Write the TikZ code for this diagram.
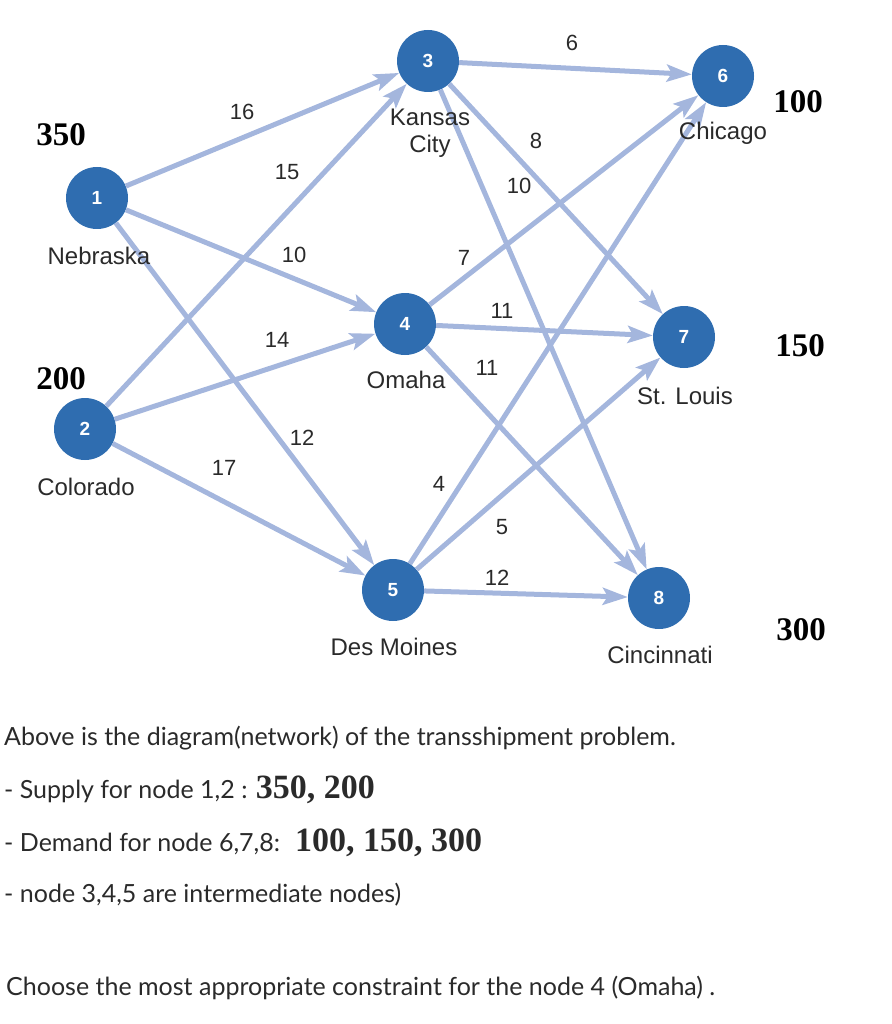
\documentclass[tikz,border=0pt]{standalone}
\usepackage{fontspec}
\setmainfont{Liberation Sans}
\newfontfamily\latofont{Lato}
\newfontfamily\timesfont{Liberation Serif}
\usetikzlibrary{arrows.meta}
\definecolor{nodeblue}{HTML}{2F6DB0}
\definecolor{edgeblue}{HTML}{A4B6DD}
\definecolor{inkgray}{HTML}{2A2A2A}
\tikzset{
  city/.style={circle, fill=nodeblue, minimum size=62pt, inner sep=0pt,
               text=white, font=\fontsize{19}{19}\selectfont\bfseries},
  flow/.style={draw=edgeblue, line width=5pt,
               -{Stealth[length=25pt,width=17pt,inset=5pt]}},
  place/.style={font=\fontsize{24}{27}\selectfont, text=inkgray, align=center},
  cost/.style={font=\fontsize{22}{22}\selectfont, text=inkgray},
  amount/.style={font=\timesfont\bfseries\fontsize{33}{33}\selectfont},
  textline/.style={anchor=west, inner sep=0pt,
                   font=\latofont\fontsize{25}{25}\selectfont, text=inkgray}
}
\newcommand{\bignum}[1]{{\timesfont\bfseries\fontsize{34}{34}\selectfont #1}}

\begin{document}
\begin{tikzpicture}[x=1pt, y=-1pt]
\useasboundingbox (0,0) rectangle (891,1024);

% nodes of the network
\node[city] (n1) at (97,198) {1};
\node[city] (n2) at (85,429) {2};
\node[city] (n3) at (428,61) {3};
\node[city] (n4) at (405,324) {4};
\node[city] (n5) at (393,590) {5};
\node[city] (n6) at (723,76) {6};
\node[city] (n7) at (684,337) {7};
\node[city] (n8) at (659,598) {8};

% arcs
\foreach \from/\to in {n1/n3, n1/n4, n1/n5, n2/n3, n2/n4, n2/n5,
                       n3/n6, n3/n7, n3/n8, n4/n6, n4/n7, n4/n8,
                       n5/n6, n5/n7, n5/n8}
  \draw[flow] (\from) -- (\to);

% costs
\node[cost] (c13) at (242,112) {16};
\node[cost] (c23) at (287,172) {15};
\node[cost] (c14) at (294,255) {10};
\node[cost] (c24) at (277,340) {14};
\node[cost] (c15) at (302,438) {12};
\node[cost] (c25) at (224,468) {17};
\node[cost] (c36) at (572,43) {6};
\node[cost] (c37) at (536,141) {8};
\node[cost] (c38) at (519,186) {10};
\node[cost] (c46) at (464,258) {7};
\node[cost] (c47) at (502,311) {11};
\node[cost] (c48) at (487,368) {11};
\node[cost] (c56) at (439,484) {4};
\node[cost] (c57) at (502,527) {5};
\node[cost] (c58) at (497,578) {12};

% city names
\node[place] (p1) at (99,256) {Nebraska};
\node[place] (p2) at (86,487) {Colorado};
\node[place] (p3) at (430,133) {Kansas\\City};
\node[place] (p4) at (406,380) {Omaha};
\node[place] (p5) at (394,647) {Des Moines};
\node[place] (p6) at (723,133) {Chicago};
\node[place] (p7) at (685,396) {St. Louis};
\node[place] (p8) at (660,655) {Cincinnati};

% supply and demand
\node[amount] (s1) at (61,135) {350};
\node[amount] (s2) at (61,379) {200};
\node[amount] (d6) at (798,102) {100};
\node[amount] (d7) at (800,346) {150};
\node[amount] (d8) at (801,630) {300};

% question text
\node[textline] (t1) at (4,738) {Above is the diagram(network) of the transshipment problem.};
\node[textline] (t2) at (4,790) {- Supply for node 1,2 : \bignum{350, 200}};
\node[textline] (t3) at (4,843) {- Demand for node 6,7,8: \ \bignum{100, 150, 300}};
\node[textline] (t4) at (4,895) {- node 3,4,5 are intermediate nodes)};
\node[textline] (t5) at (6,988) {Choose the most appropriate constraint for the node 4 (Omaha) .};
\end{tikzpicture}
\end{document}
